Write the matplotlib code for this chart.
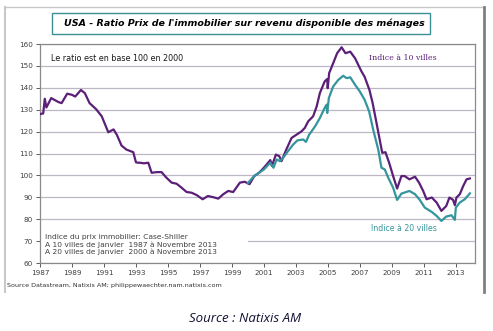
import matplotlib.pyplot as plt
from matplotlib.patches import Rectangle
from matplotlib.lines import Line2D

# Indice à 10 villes (année décimale, ratio base 100 en 2000)
annees_10 = [1987.0, 1987.2, 1987.3, 1987.4, 1987.7, 1988.15, 1988.35, 1988.7, 1989.0, 1989.2,
             1989.56, 1989.8, 1990.1, 1990.5, 1990.86, 1991.27, 1991.6, 1991.8, 1992.1, 1992.4,
             1992.83, 1992.94, 1993.0, 1993.1, 1993.25, 1993.5, 1993.77, 1993.98, 1994.3, 1994.6,
             1994.9, 1995.23, 1995.54, 1995.85, 1996.17, 1996.48, 1996.8, 1997.17, 1997.5, 1997.8,
             1998.15, 1998.46, 1998.77, 1999.08, 1999.5, 1999.8, 2000.1, 2000.4, 2000.7, 2001.0,
             2001.4, 2001.5, 2001.75, 2001.96, 2002.1, 2002.4, 2002.73, 2003.04, 2003.35, 2003.56,
             2003.77, 2004.08, 2004.3, 2004.5, 2004.8, 2004.96, 2004.99, 2005.08, 2005.33, 2005.58,
             2005.86, 2006.1, 2006.4, 2006.7, 2006.9, 2007.1, 2007.3, 2007.6, 2007.8, 2008.04,
             2008.25, 2008.4, 2008.6, 2008.83, 2009.08, 2009.33, 2009.6, 2009.8, 2010.1, 2010.45,
             2010.7, 2010.96, 2011.17, 2011.5, 2011.8, 2012.1, 2012.4, 2012.6, 2012.83, 2012.94,
             2013.04, 2013.25, 2013.46, 2013.67, 2013.88]
ratio_10 = [128.0, 128.3, 135.0, 131.0, 135.3, 133.5, 133.0, 137.3, 136.8, 136.0,
            139.0, 137.6, 133.0, 130.3, 127.0, 119.7, 121.0, 118.6, 113.6, 111.8,
            110.6, 107.6, 106.0, 105.8, 105.8, 105.5, 105.8, 101.2, 101.5, 101.5,
            99.0, 96.7, 96.2, 94.4, 92.4, 92.1, 91.0, 89.1, 90.6, 90.1,
            89.4, 91.4, 92.9, 92.4, 96.7, 97.1, 96.0, 99.7, 101.2, 103.5,
            107.0, 104.3, 109.5, 108.8, 106.5, 111.8, 117.1, 118.6, 120.1, 121.7,
            124.7, 127.0, 131.5, 137.6, 142.9, 144.0, 139.8, 146.7, 151.2, 155.8,
            158.5, 155.8, 156.5, 153.5, 150.5, 147.5, 145.0, 139.0, 133.0, 124.0,
            116.0, 110.3, 110.6, 105.8, 99.7, 94.0, 99.7, 99.7, 98.2, 99.4,
            96.7, 92.9, 89.1, 89.9, 87.6, 83.8, 86.0, 89.9, 88.8, 86.4,
            89.9, 91.4, 95.1, 98.2, 98.6]

# Indice à 20 villes
annees_20 = [2000.0, 2000.4, 2000.7, 2001.0, 2001.4, 2001.6, 2001.8, 2002.0, 2002.2, 2002.5,
             2002.83, 2003.1, 2003.46, 2003.63, 2003.83, 2004.2, 2004.5, 2004.8, 2004.92, 2004.96,
             2005.06, 2005.33, 2005.65, 2005.96, 2006.17, 2006.4, 2006.7, 2007.0, 2007.3, 2007.58,
             2007.83, 2008.15, 2008.35, 2008.56, 2008.77, 2009.08, 2009.33, 2009.6, 2010.1, 2010.45,
             2010.75, 2011.06, 2011.5, 2011.8, 2012.1, 2012.4, 2012.73, 2012.94, 2013.0, 2013.25,
             2013.56, 2013.88]
ratio_20 = [96.5, 99.8, 101.2, 102.7, 105.8, 103.5, 107.3, 106.5, 108.0, 111.0,
            114.1, 116.0, 116.4, 115.3, 118.6, 122.4, 126.2, 130.8, 132.3, 128.5,
            135.3, 140.6, 143.6, 145.5, 144.4, 144.8, 141.4, 138.3, 134.5, 129.2,
            121.0, 111.8, 103.5, 102.7, 99.0, 94.4, 88.8, 91.7, 92.9, 91.4,
            88.8, 85.3, 83.3, 81.5, 79.2, 81.2, 81.8, 79.7, 85.3, 87.6,
            89.1, 91.8]

annees_ticks = list(range(1987, 2014, 2))
ratios_ticks = list(range(60, 161, 10))

violet = '#5b1f78'
turquoise = '#35959c'
gris_grille = '#bdb6c4'

fig = plt.figure(figsize=(4.93, 3.31), dpi=100)
fig.patch.set_facecolor('white')

# cadre extérieur (style capture Excel)
fig.add_artist(Line2D([5/493, 5/493], [1-7/331, 1-292/331], color='#c8c8c8', lw=1.5))
fig.add_artist(Line2D([5/493, 484/493], [1-7/331, 1-7/331], color='#c8c8c8', lw=1.0))
fig.add_artist(Line2D([484/493, 484/493], [1-7/331, 1-292/331], color='#808080', lw=2.0))

ax = fig.add_axes([40/493, 1-263/331, 435/493, 219/331])
ax.plot(annees_10, ratio_10, color=violet, lw=1.6, zorder=3)
ax.plot(annees_20, ratio_20, color=turquoise, lw=1.6, zorder=4)

ax.set_xlim(1987, 2014.2)
ax.set_ylim(60, 160)
ax.set_xticks(annees_ticks)
ax.set_yticks(ratios_ticks)
ax.tick_params(axis='both', labelsize=5.2, colors='#404040', length=3, width=0.6, pad=2)
ax.grid(axis='y', color=gris_grille, lw=0.9, zorder=0)
for s in ax.spines.values():
    s.set_color('#8a8a8a')
    s.set_linewidth(0.9)

ax.text(0.025, 0.955, "Le ratio est en base 100 en 2000", transform=ax.transAxes,
        fontsize=5.8, color='#1a1a1a', va='top', ha='left')
ax.text(0.757, 0.955, "Indice à 10 villes", transform=ax.transAxes,
        fontsize=5.6, color=violet, va='top', ha='left', family='DejaVu Serif')
ax.text(0.762, 0.135, "Indice à 20 villes", transform=ax.transAxes,
        fontsize=5.6, color=turquoise, va='bottom', ha='left')

# encadré blanc de la légende en bas à gauche
ax.add_patch(Rectangle((0, 0.005), 0.478, 0.17, transform=ax.transAxes,
                       facecolor='white', edgecolor='none', zorder=2))
ax.text(0.012, 0.035, "Indice du prix immobilier: Case-Shiller\n"
        "A 10 villes de Janvier  1987 à Novembre 2013\n"
        "A 20 villes de Janvier  2000 à Novembre 2013",
        transform=ax.transAxes, fontsize=5.4, color='#404040', va='bottom', ha='left',
        linespacing=1.2, zorder=5)

# titre encadré
fig.add_artist(Rectangle((52/493, 1-34/331), 378/493, 21/331, transform=fig.transFigure,
                         facecolor='white', edgecolor='#3a8f95', lw=1.0))
fig.text(244/493, 1-23.5/331, "USA - Ratio Prix de l'immobilier sur revenu disponible des ménages",
         ha='center', va='center', fontsize=6.8, fontweight='bold', fontstyle='italic', color='black')

fig.text(7/493, 1-285/331, "Source Datastream, Natixis AM; philippewaechter.nam.natixis.com",
         ha='left', va='center', fontsize=4.6, color='#303030')
fig.text(245/493, 1-318/331, "Source : Natixis AM", ha='center', va='center',
         fontsize=9.5, fontstyle='italic', color='#111133', family='Open Sans')

fig.savefig('out.png', dpi=100)
